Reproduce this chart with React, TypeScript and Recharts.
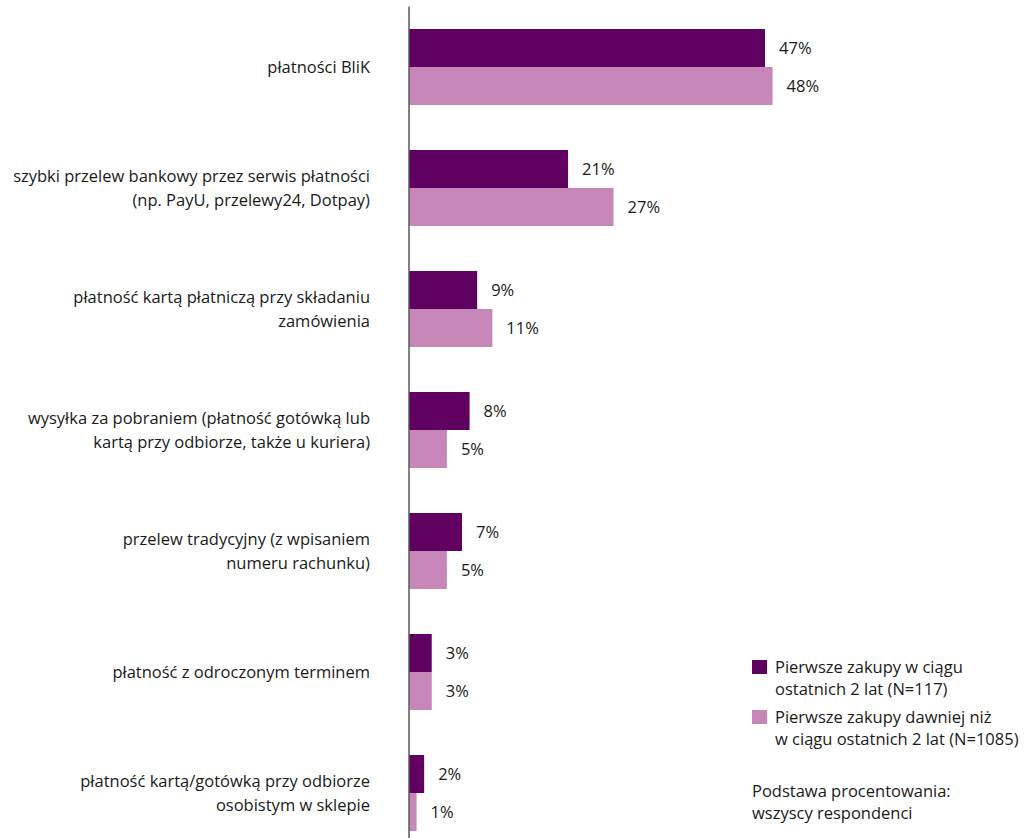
import { BarChart, Bar, XAxis, YAxis, LabelList, Legend } from "recharts"

const categories = [
  "płatności BliK",
  "szybki przelew bankowy przez serwis płatności\n(np. PayU, przelewy24, Dotpay)",
  "płatność kartą płatniczą przy składaniu\nzamówienia",
  "wysyłka za pobraniem (płatność gotówką lub\nkartą przy odbiorze, także u kuriera)",
  "przelew tradycyjny (z wpisaniem\nnumeru rachunku)",
  "płatność z odroczonym terminem",
  "płatność kartą/gotówką przy odbiorze\nosobistym w sklepie",
]
const recentBuyers = [47, 21, 9, 8, 7, 3, 2]
const earlierBuyers = [48, 27, 11, 5, 5, 3, 1]
const seriesNames = [
  "Pierwsze zakupy w ciągu\nostatnich 2 lat (N=117)",
  "Pierwsze zakupy dawniej niż\nw ciągu ostatnich 2 lat (N=1085)",
]
const baseNote = "Podstawa procentowania:\nwszyscy respondenci"

const DARK = "#600060"
const LIGHT = "#c686b8"
const FONT = "'Open Sans', sans-serif"

const data = categories.map((name, i) => ({
  name,
  recent: recentBuyers[i],
  earlier: earlierBuyers[i],
}))

function CategoryTick({ y, payload }: any) {
  const lines = String(payload.value).split("\n")
  const lineH = 24
  const startY = y - ((lines.length - 1) * lineH) / 2
  return (
    <text x={370} y={startY} textAnchor="end" fontSize={16.5} fill="#1a1a1a" fontFamily={FONT}>
      {lines.map((line, i) => (
        <tspan key={i} x={370} dy={i === 0 ? "0.35em" : lineH}>
          {line}
        </tspan>
      ))}
    </text>
  )
}

function LegendBox() {
  const items = [
    { name: seriesNames[0], color: DARK },
    { name: seriesNames[1], color: LIGHT },
  ]
  return (
    <div style={{ fontFamily: FONT, fontSize: 16.5, color: "#1a1a1a", lineHeight: "22px" }}>
      {items.map((item) => (
        <div key={item.name} style={{ display: "flex", marginBottom: 6 }}>
          <span style={{ width: 15, height: 14, background: item.color, marginTop: 4, marginRight: 8, flexShrink: 0 }} />
          <span style={{ whiteSpace: "pre" }}>{item.name}</span>
        </div>
      ))}
      <div style={{ whiteSpace: "pre", marginTop: 30 }}>{baseNote}</div>
    </div>
  )
}

export default function App() {
  return (
    <div style={{ position: "fixed", left: 0, top: 0, width: 1032, height: 838, overflow: "hidden", background: "#fff" }}>
      <BarChart
        width={1032}
        height={860}
        data={data}
        layout="vertical"
        margin={{ top: 6.5, right: 17, bottom: 6.5, left: 0 }}
        barCategoryGap={22.5}
        barGap={0}
      >
        <XAxis type="number" domain={[0, 80]} hide />
        <YAxis
          type="category"
          dataKey="name"
          width={409}
          tickLine={false}
          axisLine={{ stroke: "#595959", strokeWidth: 1.5 }}
          tick={<CategoryTick />}
          interval={0}
        />
        <Legend
          layout="vertical"
          align="center"
          verticalAlign="middle"
          content={<LegendBox />}
          wrapperStyle={{ left: 752, top: 656, width: 280 }}
        />
        <Bar dataKey="recent" name={seriesNames[0]} fill={DARK} isAnimationActive={false}>
          <LabelList
            dataKey="recent"
            position="right"
            offset={14}
            formatter={(v: any) => `${v}%`}
            style={{ fontFamily: FONT, fontSize: 16.5, fill: "#1a1a1a" }}
          />
        </Bar>
        <Bar dataKey="earlier" name={seriesNames[1]} fill={LIGHT} isAnimationActive={false}>
          <LabelList
            dataKey="earlier"
            position="right"
            offset={14}
            formatter={(v: any) => `${v}%`}
            style={{ fontFamily: FONT, fontSize: 16.5, fill: "#1a1a1a" }}
          />
        </Bar>
      </BarChart>
    </div>
  )
}
